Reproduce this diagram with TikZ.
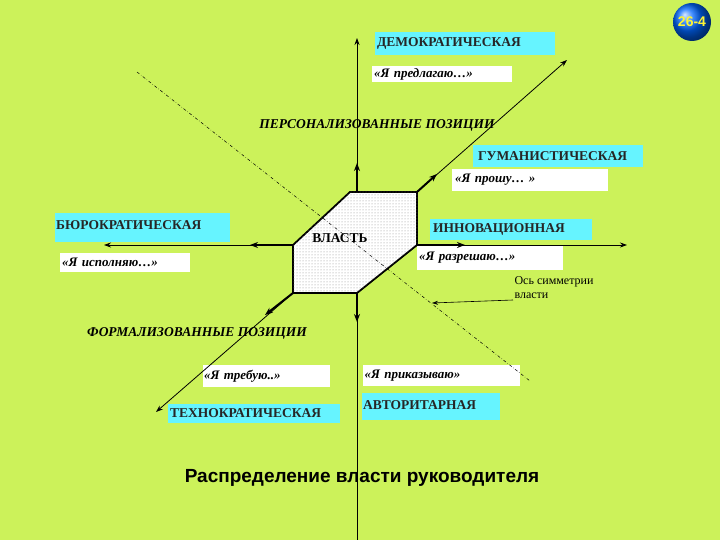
\documentclass[tikz,border=0pt]{standalone}
\usepackage{fontspec}
\setmainfont{Liberation Serif}
\newfontfamily\titlefont{Liberation Sans}
\usetikzlibrary{patterns,arrows.meta}
\definecolor{bg}{HTML}{CCF25A}
\definecolor{cy}{HTML}{66F4FF}
\begin{document}
\begin{tikzpicture}[x=1pt,y=-1pt,
  cbox/.style={fill=cy,inner sep=0pt,font=\bfseries\fontsize{13.5}{15}\selectfont,text=black!85},
  wbox/.style={fill=white,inner sep=0pt,font=\bfseries\itshape\fontsize{13}{15}\selectfont},
  axis/.style={line width=0.8pt,-{Stealth[length=7pt,width=5pt]}},
  thick arr/.style={line width=2pt,-{Stealth[length=8pt,width=6pt]}}]
\fill[bg] (0,0) rectangle (720,540);
\useasboundingbox (0,0) rectangle (720,540);
% boxes
\node[cbox,minimum width=180pt,minimum height=23pt,text width=176pt,align=left] (dem) at (465,43.5) {ДЕМОКРАТИЧЕСКАЯ};
\node[wbox,minimum width=140pt,minimum height=16pt,text width=136pt,align=left] (pred) at (442,74) {«Я предлагаю…»};
\node[cbox,minimum width=170pt,minimum height=22pt,text width=160pt,align=left] (gum) at (558,156) {ГУМАНИСТИЧЕСКАЯ};
\node[wbox,minimum width=156pt,minimum height=22pt,text width=150pt,align=left] (pros) at (530,180) {«Я прошу… »};
\node[cbox,minimum width=175pt,minimum height=29pt,text width=173pt,align=left,anchor=north west] (bur) at (55,213) {\raisebox{5pt}{БЮРОКРАТИЧЕСКАЯ}};
\node[cbox,minimum width=162pt,minimum height=21pt,text width=156pt,align=left] (inn) at (511,229.5) {ИННОВАЦИОННАЯ};
\node[wbox,minimum width=146pt,minimum height=24pt,text width=142pt,align=left] (razr) at (490,258) {«Я разрешаю…»};
\node[wbox,minimum width=130pt,minimum height=19pt,text width=126pt,align=left] (isp) at (125,262.5) {«Я исполняю…»};
\node[wbox,minimum width=127pt,minimum height=22pt,text width=125pt,align=left] (treb) at (266.5,376) {«Я требую..»};
\node[wbox,minimum width=157pt,minimum height=21pt,text width=154pt,align=left] (prik) at (441.5,375.5) {«Я приказываю»};
\node[cbox,minimum width=172pt,minimum height=19pt,text width=168pt,align=left] (tech) at (254,413) {ТЕХНОКРАТИЧЕСКАЯ};
\node[cbox,minimum width=138pt,minimum height=27pt,text width=136pt,align=left,anchor=north west] (avt) at (362,393) {\raisebox{3pt}{АВТОРИТАРНАЯ}};
% octagon
\draw[line width=1.8pt,fill=white,postaction={pattern=dots,pattern color=black!45}]
  (293,245) -- (350,192) -- (417,192) -- (417,245) -- (357,293) -- (293,293) -- cycle;
% dash-dot symmetry axis
\draw[dash dot,line width=0.5pt] (137,72) -- (530,381);
\node[font=\bfseries\fontsize{13.5}{15}\selectfont] (vl) at (340,238) {ВЛАСТЬ};
% axes
\coordinate (vt) at (357,38); \coordinate (vb) at (357,540);
\coordinate (hl) at (104,245); \coordinate (hr) at (627,245);
\coordinate (dl) at (156,412); \coordinate (du) at (567,60);
\draw[axis] (357,192) -- (vt);
\draw[thick arr] (357,192) -- (357,163);
\draw[line width=0.8pt] (357,293) -- (vb);
\draw[thick arr] (357,293) -- (357,322);
\draw[axis] (293,245) -- (hl);
\draw[thick arr] (293,245) -- (250,245);
\draw[axis] (417,245) -- (hr);
\draw[thick arr] (417,245) -- (465,245);
\draw[axis] (417,192) -- (du);
\draw[thick arr] (417,192) -- (437,174);
\draw[axis] (293,293) -- (dl);
\draw[thick arr] (293,293) -- (265,315);
% labels
\node[font=\bfseries\itshape\fontsize{13.5}{15}\selectfont] (pers) at (377,125) {ПЕРСОНАЛИЗОВАННЫЕ ПОЗИЦИИ};
\node[font=\bfseries\itshape\fontsize{13.5}{15}\selectfont] (form) at (197,333) {ФОРМАЛИЗОВАННЫЕ ПОЗИЦИИ};
\node[font=\fontsize{12}{14}\selectfont,align=left,anchor=west] (os) at (511,288) {Ось симметрии\\власти};
\draw[line width=0.6pt,-{Stealth[length=6pt,width=4pt]}] (513,300) -- (432,303);
\node[font=\titlefont\bfseries\fontsize{19}{22}\selectfont] (title) at (362,478) {Распределение власти руководителя};
% badge
\shade[ball color=blue!60!cyan] (692,22) circle (19);
\node[font=\titlefont\bfseries\fontsize{14}{16}\selectfont,text=yellow!80!white] (badge) at (692,22) {26-4};
\end{tikzpicture}
\end{document}
